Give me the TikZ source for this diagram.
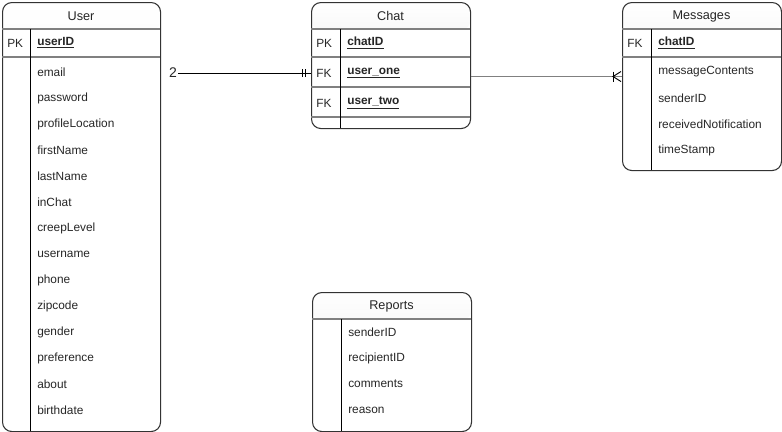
\documentclass[tikz,border=0pt]{standalone}
\usepackage{fontspec}
\setmainfont{Liberation Sans}
\usetikzlibrary{calc}
\definecolor{edgegray}{HTML}{333333}
\definecolor{rulegray}{HTML}{808080}

\begin{document}
\begin{tikzpicture}[x=0.75pt, y=-0.75pt]
    \tikzstyle{every node} = [font=\fontsize{8.9}{10}\selectfont, text=black!85]
    \tikzstyle{table} = [draw=edgegray, line width=0.8pt, rounded corners=7pt, anchor=north west, inner sep=0pt,
        path picture={\shade[top color=white, bottom color=black!12] (path picture bounding box.north west) rectangle ([yshift=-20.25pt]path picture bounding box.north east);}]
    \tikzstyle{title} = [font=\fontsize{9.5}{11}\selectfont]
    \tikzstyle{field} = [anchor=west, inner sep=0pt]
    \tikzstyle{keyfield} = [field, font=\fontsize{8.9}{10}\selectfont\bfseries]
    \tikzstyle{keytag} = [anchor=west, inner sep=0pt]
    \tikzstyle{rule} = [draw=rulegray, line width=1.5pt]
    \tikzstyle{divider} = [draw=black, line width=0.8pt]
    \tikzstyle{link} = [draw=black, line width=0.7pt]

    \useasboundingbox (0,0) rectangle (782,432);

    % tables
    \node (user) [table, minimum width=118.5pt, minimum height=321.75pt] at (2,2) {};
    \node (chat) [table, minimum width=119.25pt, minimum height=94.5pt] at (311,2) {};
    \node (messages) [table, minimum width=119.25pt, minimum height=126pt] at (622,2) {};
    \node (reports) [table, minimum width=119.25pt, minimum height=104.25pt] at (312,292) {};

    % User
    \node (usertitle) [title] at (81,16) {User};
    \draw [rule] (2,29) -- (160,29);
    \draw [rule] (2,57) -- (160,57);
    \draw [divider] (30.5,29) -- (30.5,431);
    \node (upk) [keytag] at (7,43) {PK};
    \node (uid) [keyfield] at (37,43) {\underline{userID}};
    \node (uemail) [field] at (37,72) {email};
    \node (upassword) [field] at (37,98) {password};
    \node (ulocation) [field] at (37,124) {profileLocation};
    \node (ufirst) [field] at (37,150) {firstName};
    \node (ulast) [field] at (37,176) {lastName};
    \node (uinchat) [field] at (37,202) {inChat};
    \node (ucreep) [field] at (37,228) {creepLevel};
    \node (uname) [field] at (37,254) {username};
    \node (uphone) [field] at (37,280) {phone};
    \node (uzip) [field] at (37,306) {zipcode};
    \node (ugender) [field] at (37,332) {gender};
    \node (upref) [field] at (37,358) {preference};
    \node (uabout) [field] at (37,384) {about};
    \node (ubirth) [field] at (37,410) {birthdate};

    % Chat
    \node (chattitle) [title] at (390.5,16) {Chat};
    \draw [rule] (311,29) -- (470,29);
    \draw [rule] (311,57) -- (470,57);
    \draw [rule] (311,87) -- (470,87);
    \draw [rule] (311,117) -- (470,117);
    \draw [divider] (340.5,29) -- (340.5,128);
    \node (cpk) [keytag] at (316,43) {PK};
    \node (cid) [keyfield] at (347,43) {\underline{chatID}};
    \node (cfk1) [keytag] at (316,73) {FK};
    \node (cone) [keyfield] at (347,73) {\underline{user\_one}};
    \node (cfk2) [keytag] at (316,103) {FK};
    \node (ctwo) [keyfield] at (347,103) {\underline{user\_two}};

    % Messages
    \node (msgtitle) [title] at (701.5,16) {Messages};
    \draw [rule] (622,29) -- (781,29);
    \draw [rule] (622,57) -- (781,57);
    \draw [divider] (651.5,29) -- (651.5,170);
    \node (mfk) [keytag] at (627,43) {FK};
    \node (mid) [keyfield] at (658,43) {\underline{chatID}};
    \node (mcontents) [field] at (658,72) {messageContents};
    \node (msender) [field] at (658,98) {senderID};
    \node (mnotify) [field] at (658,124) {receivedNotification};
    \node (mstamp) [field] at (658,150) {timeStamp};

    % Reports
    \node (reptitle) [title] at (391.5,306) {Reports};
    \draw [rule] (312,319) -- (471,319);
    \draw [divider] (341.5,319) -- (341.5,431);
    \node (rsender) [field] at (348,332) {senderID};
    \node (rrecipient) [field] at (348,358) {recipientID};
    \node (rcomments) [field] at (348,384) {comments};
    \node (rreason) [field] at (348,410) {reason};

    % relations
    \node (two) [inner sep=1pt, font=\fontsize{10.5}{12}\selectfont] at (173,73) {2};
    \draw [link] (two.east) -- (two.east -| chat.west);
    \draw [link] ($(two.east -| chat.west)+(-9,-4)$) -- ++(0,8);
    \draw [link] ($(two.east -| chat.west)+(-6,-4)$) -- ++(0,8);

    \draw [rulegray, line width=1pt] ($(chat.east)+(0,11)$) -- ($(chat.east -| messages.west)+(0,11)$);
    \draw [link] ($(chat.east -| messages.west)+(-9,6)$) -- ++(0,10);
    \draw [link] ($(chat.east -| messages.west)+(-1,6)$) -- ($(chat.east -| messages.west)+(-9,11)$) -- ($(chat.east -| messages.west)+(-1,16)$);
\end{tikzpicture}
\end{document}
